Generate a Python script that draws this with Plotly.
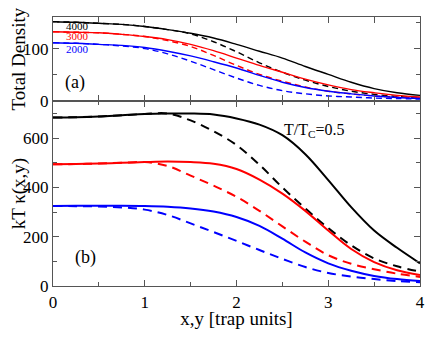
import plotly.graph_objects as go

# x grid (trap units)
x = [0, 0.25, 0.5, 0.75, 1.0, 1.25, 1.5, 1.75, 2.0, 2.25, 2.5, 2.75, 3.0, 3.25, 3.5, 3.75, 4.0]

# panel (a): total density
dens_4000 = [151, 150, 148, 146, 142, 136, 129, 120, 108, 95, 82, 66, 51, 36, 24, 16, 11]
dens_4000_d = [151, 150, 148, 146, 142, 136, 128, 113, 94, 73, 55, 40, 28, 19, 13, 9, 7]
dens_3000 = [132, 131, 130, 127, 123, 117, 108, 96, 82, 68, 55, 42, 31, 22, 16, 11, 8]
dens_3000_d = [132, 131, 130, 127, 123, 115, 104, 87, 68, 51, 38, 27, 19, 14, 10, 8, 6]
dens_2000 = [111, 110, 108, 106, 102, 95, 86, 75, 63, 49, 36, 26, 19, 14, 10, 7, 5]
dens_2000_d = [111, 110, 108, 105, 100, 90, 76, 60, 44, 30, 20, 14, 10, 8, 6, 5, 4]

# panel (b): kT kappa(x,y)
kap_4000 = [684, 685, 688, 693, 698, 700, 700, 696, 680, 655, 612, 535, 430, 320, 225, 155, 92]
kap_4000_d = [684, 685, 688, 693, 698, 700, 672, 628, 572, 492, 400, 315, 235, 165, 112, 80, 58]
kap_3000 = [494, 495, 497, 500, 503, 505, 503, 496, 475, 432, 375, 305, 225, 150, 97, 64, 45]
kap_3000_d = [494, 495, 497, 500, 503, 487, 448, 407, 362, 305, 242, 180, 125, 90, 68, 50, 37]
kap_2000 = [325, 326, 326, 326, 325, 322, 315, 302, 280, 244, 192, 136, 92, 62, 41, 28, 20]
kap_2000_d = [325, 324, 323, 319, 310, 288, 254, 219, 183, 146, 110, 77, 53, 38, 28, 20, 15]

labels = ["4000", "3000", "2000"]
colors = ["#000000", "#ff0000", "#0000ff"]
dens = [(dens_4000, dens_4000_d), (dens_3000, dens_3000_d), (dens_2000, dens_2000_d)]
kaps = [(kap_4000, kap_4000_d), (kap_3000, kap_3000_d), (kap_2000, kap_2000_d)]

fig = go.Figure()
for (s, d), c in zip(dens, colors):
    fig.add_trace(go.Scatter(x=x, y=s, mode="lines", line=dict(color=c, width=1.4, shape="spline"),
                             xaxis="x2", yaxis="y2"))
    fig.add_trace(go.Scatter(x=x, y=d, mode="lines", line=dict(color=c, width=1.4, dash="6px,4px", shape="spline"),
                             xaxis="x2", yaxis="y2"))
for (s, d), c in zip(kaps, colors):
    fig.add_trace(go.Scatter(x=x, y=s, mode="lines", line=dict(color=c, width=2, shape="spline"),
                             xaxis="x", yaxis="y"))
    fig.add_trace(go.Scatter(x=x, y=d, mode="lines", line=dict(color=c, width=2, dash="9px,6px", shape="spline"),
                             xaxis="x", yaxis="y"))

serif = "Times New Roman, Liberation Serif, DejaVu Serif, serif"
frame = "#555555"
ax_common = dict(showline=True, linecolor=frame, linewidth=1.3, mirror="allticks", ticks="inside",
                 tickcolor=frame, showgrid=False, zeroline=False, automargin=False,
                 tickfont=dict(family=serif, size=17, color="black"))

# page body has an 8px margin, so the figure is sized 16px smaller than the window
fig.update_layout(
    width=420, height=321,
    margin=dict(l=45, r=8, t=9, b=43),
    paper_bgcolor="white", plot_bgcolor="white",
    font=dict(family=serif),
    showlegend=False,
    xaxis=dict(ax_common, range=[0, 4], domain=[0, 1], anchor="y", dtick=1, ticklen=6,
               minor=dict(dtick=0.5, ticklen=4, ticks="inside", tickcolor=frame),
               title=dict(text="x,y [trap units]", font=dict(family=serif, size=19, color="black"), standoff=8)),
    yaxis=dict(ax_common, range=[0, 750], domain=[0, 0.687], anchor="x", dtick=200, ticklen=6,
               minor=dict(dtick=100, ticklen=4, ticks="inside", tickcolor=frame),
               title=dict(text="kT κ(x,y)", font=dict(family=serif, size=19, color="black"), standoff=4)),
    xaxis2=dict(ax_common, range=[0, 4], domain=[0, 1], anchor="y2", dtick=0.5, ticklen=6,
                showticklabels=False),
    yaxis2=dict(ax_common, range=[0, 160], domain=[0.687, 1], anchor="x2", dtick=100, ticklen=6,
                minor=dict(dtick=50, ticklen=4, ticks="inside", tickcolor=frame),
                title=dict(text="Total Density", font=dict(family=serif, size=19, color="black"), standoff=4)),
)

ann = []
for lab, c, yv in zip(labels, colors, [143, 123, 99]):
    ann.append(dict(x=0.27, y=yv, xref="x2", yref="y2", text=lab, showarrow=False,
                    font=dict(family=serif, size=11, color=c)))
ann.append(dict(x=0.24, y=36, xref="x2", yref="y2", text="(a)", showarrow=False,
                font=dict(family=serif, size=18, color="black")))
ann.append(dict(x=0.35, y=115, xref="x", yref="y", text="(b)", showarrow=False,
                font=dict(family=serif, size=18, color="black")))
ann.append(dict(x=2.85, y=630, xref="x", yref="y", text="T/T<sub>C</sub>=0.5", showarrow=False,
                font=dict(family=serif, size=16, color="black")))
fig.update_layout(annotations=ann)

fig.write_html("out.html")
